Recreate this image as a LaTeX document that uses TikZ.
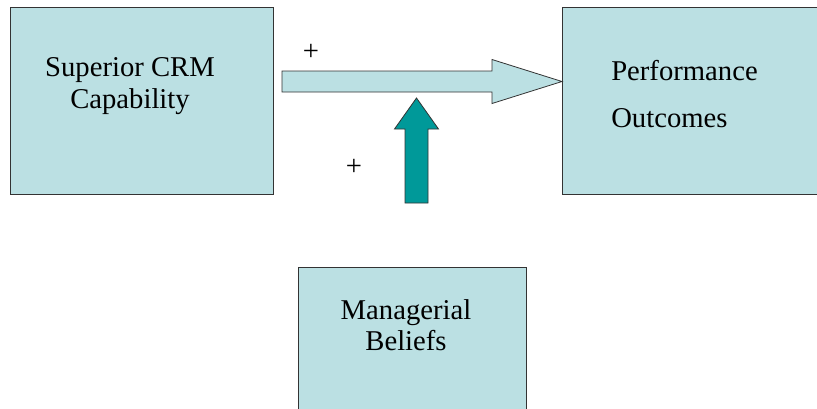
\documentclass[tikz,border=0pt]{standalone}
\usepackage{fontspec}
\setmainfont{Liberation Serif}
\usetikzlibrary{calc,positioning}

\definecolor{boxfill}{RGB}{187,224,227}
\definecolor{arrowteal}{RGB}{0,153,153}

\begin{document}
\begin{tikzpicture}[x=0.75pt,y=-0.75pt]
			\tikzstyle{factor}=[draw=black!80, line width=0.8pt, fill=boxfill, rectangle, inner sep=0pt, anchor=north west, minimum width=197pt, minimum height=140pt]
			\tikzstyle{label}=[font=\fontsize{21.5}{23.5}\selectfont, inner sep=0pt]
			\tikzstyle{blockarrow}=[draw=black!80, line width=0.6pt, fill=boxfill]
			\tikzstyle{tealarrow}=[draw=black!80, line width=0.6pt, fill=arrowteal]

			\useasboundingbox (0,0) rectangle (817,408);
			\clip (0,0) rectangle (817,408);

			\node (crm) [factor] at (10,7) {};
			\node (perf) [factor, minimum width=230pt] at (562,7) {};
			\node (beliefs) [factor, minimum width=171pt] at (298,267) {};

			\node (crmtext) [label, align=center] at (130,86) {Superior CRM\\Capability};
			\node (perftext) [label, align=left, anchor=west] at (611,94) {Performance\\[12pt]Outcomes};
			\node (beliefstext) [label, align=center] at (406,325) {Managerial\\Beliefs};

			% arrow from capability to outcomes
			\coordinate (hStart) at (282,81.5);
			\coordinate (hTip) at (perf.west |- hStart);
			\draw [blockarrow] ($(hStart)+(0,-10.5)$) -- ($(hTip)+(-70,-10.5)$) -- ($(hTip)+(-70,-22)$) -- (hTip)
				-- ($(hTip)+(-70,22)$) -- ($(hTip)+(-70,10.5)$) -- ($(hStart)+(0,10.5)$) -- cycle;

			% moderating arrow from beliefs
			\coordinate (vBase) at (416.5,203);
			\coordinate (vTip) at (416.5,98);
			\draw [tealarrow] ($(vBase)+(-11.5,0)$) -- ($(vTip)+(-11.5,31)$) -- ($(vTip)+(-22,31)$) -- (vTip)
				-- ($(vTip)+(22,31)$) -- ($(vTip)+(11.5,31)$) -- ($(vBase)+(11.5,0)$) -- cycle;

			\node (plusA) [label] at (311,52) {+};
			\node (plusB) [label] at (354,167) {+};
\end{tikzpicture}
\end{document}
